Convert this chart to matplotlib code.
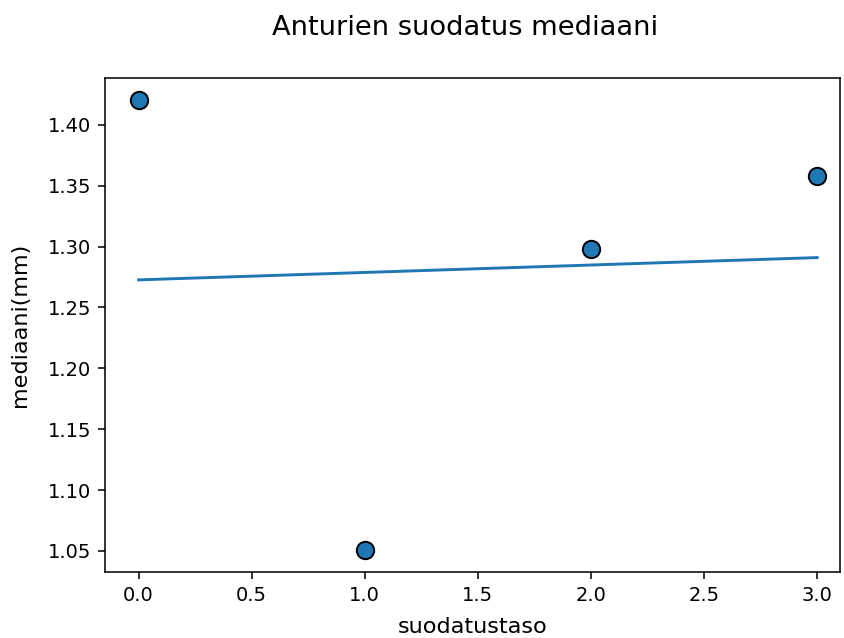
import numpy as np
import matplotlib
matplotlib.use("Agg")
import matplotlib.pyplot as plt

# suodatustaso vs mediaani
taso = np.array([0, 1, 2, 3])
mediaani = np.array([1.420, 1.051, 1.298, 1.358])

# linear fit through the points
k, b = np.polyfit(taso, mediaani, 1)
fit_y = k*taso + b

DPI = 140
fig = plt.figure(figsize=(844/DPI, 638/DPI), dpi=DPI)
ax = fig.add_axes([0.124, 0.103, 0.871, 0.775])

ax.plot(taso, fit_y, color='C0', lw=1.5)
ax.scatter(taso, mediaani, s=80, color='C0', edgecolors='k', linewidths=1.0, zorder=3)

ax.set_xlim(-0.15, 3.10)
ax.set_ylim(1.0325, 1.4385)
ax.set_xticks([0.0, 0.5, 1.0, 1.5, 2.0, 2.5, 3.0])
ax.set_yticks([1.05, 1.10, 1.15, 1.20, 1.25, 1.30, 1.35, 1.40])
ax.tick_params(labelsize=10)
ax.set_xlabel('suodatustaso', fontsize=11.5, labelpad=6)
ax.set_ylabel('mediaani(mm)', fontsize=11.5, labelpad=9)
fig.text(0.551, 0.956, 'Anturien suodatus mediaani', ha='center', va='center', fontsize=14)

fig.savefig("out.png", dpi=DPI)
